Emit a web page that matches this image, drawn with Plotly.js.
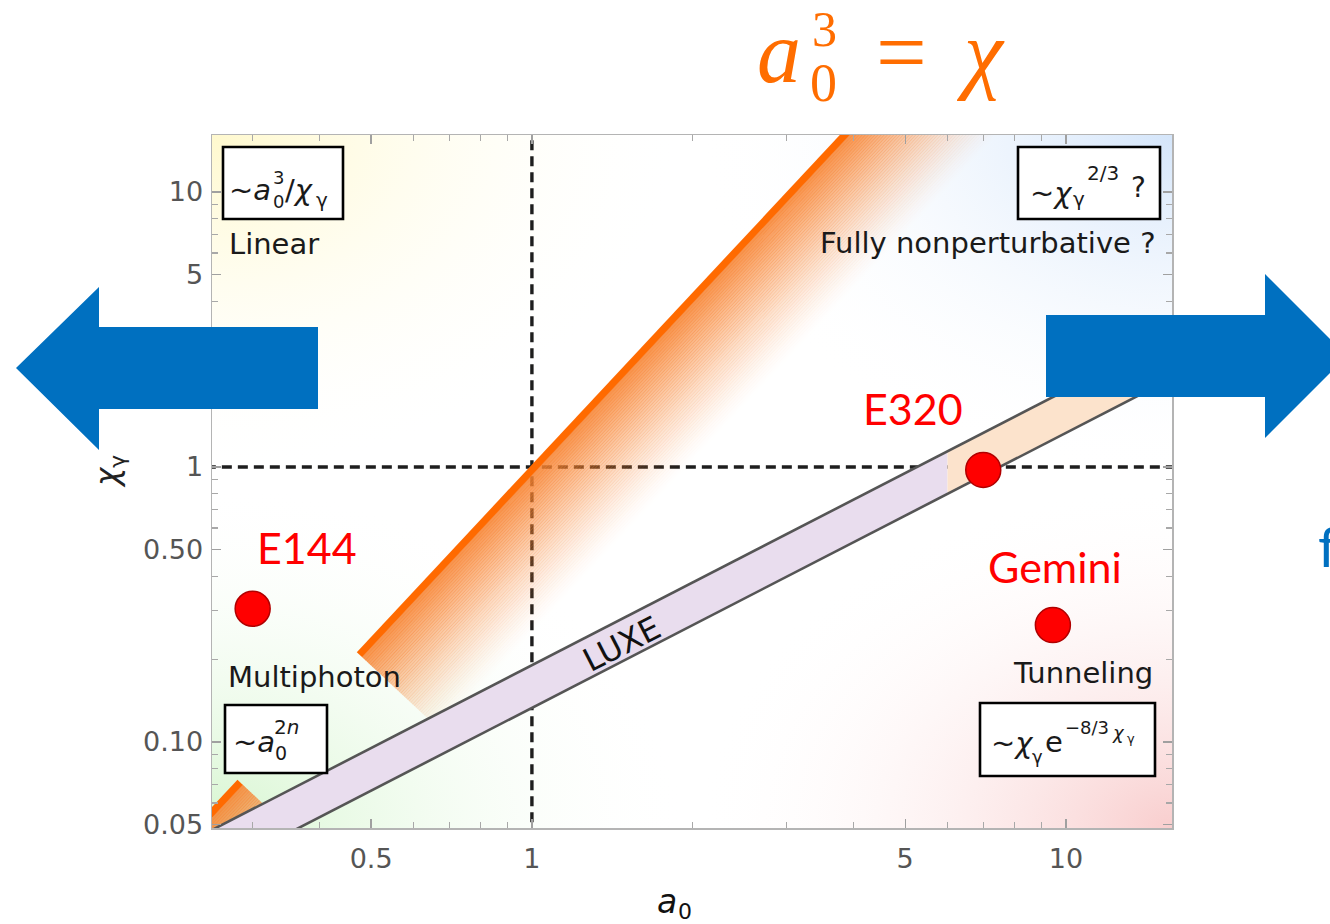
<!DOCTYPE html>
<html><head><meta charset="utf-8">
<script src="https://cdn.plot.ly/plotly-3.0.1.min.js"></script>
<style>html,body{margin:0;padding:0;background:#fff;overflow:hidden}#chart{width:1330px;height:924px}</style>
</head><body><div id="chart"></div>
<script>
// ---------------- data ----------------
const xTickVals = [0.5, 1, 5, 10];
const xTickText = ['0.5', '1', '5', '10'];
const xMinorVals = [0.3, 0.4, 0.6, 0.7, 0.8, 0.9, 2, 3, 4, 6, 7, 8, 9];
const yTickVals = [0.05, 0.1, 0.5, 1, 5, 10];
const yTickText = ['0.05', '0.10', '0.50', '1', '5', '10'];
const yMinorVals = [0.06, 0.07, 0.08, 0.09, 0.2, 0.3, 0.4, 0.6, 0.7, 0.8, 0.9, 2, 3, 4, 6, 7, 8, 9];

const expNames = ['E144', 'E320', 'Gemini'];
const expA0 = [0.30, 7.0, 9.45];
const expChi = [0.305, 0.975, 0.266];

// LUXE band edges (a0, chi) and colour switch at a0 = 6
const luxeA0 = [0.2, 6, 20];
const luxeChiUpper = [0.038, 1.14, 3.8];
const luxeChiLower = [0.0266, 0.80, 2.66];

// orange threshold edge: lower piece ends at index 0, upper piece spans index 1..2
const orangeEdgeA0 = [0.281, 0.47, 3.77];
const orangeEdgeChi = [0.0728, 0.212, 16.1];

const refA0 = 1, refChi = 1;

// ---------------- geometry helpers ----------------
const W = 1330, H = 924, PL = 212, PR = 1172, PT = 135, PB = 828;
const X0 = -0.599, X1 = 1.1985, Y0 = -1.313, Y1 = 1.207;
const kx = (PR - PL) / (X1 - X0), ky = (PB - PT) / (Y1 - Y0);
const toPx = (a, c) => [PL + (Math.log10(a) - X0) * kx, PB - (Math.log10(c) - Y0) * ky];
const toData = p => [Math.pow(10, X0 + (p[0] - PL) / kx), Math.pow(10, Y0 + (PB - p[1]) / ky)];
const px = x => (x - PL) / (PR - PL);
const py = y => (PB - y) / (PB - PT);

const traces = [];

// soft corner tints of the background
const tints = [
  {a: X0, c: Y1, col: 'rgba(255,248,200,0.9)'},
  {a: X1, c: Y1, col: 'rgba(210,228,250,0.95)'},
  {a: X1, c: Y0, col: 'rgba(248,200,200,0.9)'},
  {a: X0, c: Y0, col: 'rgba(212,245,205,0.95)'}
];
tints.forEach(k => {
  const hx = (X1 - X0) * 0.9, hy = (Y1 - Y0) * 0.9;
  const xs = [k.a - hx, k.a + hx, k.a + hx, k.a - hx, k.a - hx].map(v => Math.pow(10, v));
  const ys = [k.c - hy, k.c - hy, k.c + hy, k.c + hy, k.c - hy].map(v => Math.pow(10, v));
  traces.push({type: 'scatter', mode: 'lines', x: xs, y: ys, fill: 'toself',
    line: {width: 0, color: 'rgba(0,0,0,0)'}, hoverinfo: 'skip',
    fillgradient: {type: 'radial', colorscale: [[0, k.col], [0.55, 'rgba(255,255,255,0)'], [1, 'rgba(255,255,255,0)']]}});
});

// dashed reference lines
traces.push({type: 'scatter', mode: 'lines', x: [refA0, refA0], y: [0.02, 40],
  line: {color: '#1e1e1e', width: 3.4, dash: '10px,6px'}, hoverinfo: 'skip'});
traces.push({type: 'scatter', mode: 'lines', x: [0.1, 40], y: [refChi, refChi],
  line: {color: '#1e1e1e', width: 3.4, dash: '10px,6px'}, hoverinfo: 'skip'});

// orange threshold band with fading side
(function () {
  const p1 = toPx(orangeEdgeA0[1], orangeEdgeChi[1]);
  const p2 = toPx(orangeEdgeA0[2], orangeEdgeChi[2]);
  const pk = toPx(orangeEdgeA0[0], orangeEdgeChi[0]);
  let u = [p2[0] - p1[0], p2[1] - p1[1]];
  const len = Math.hypot(u[0], u[1]); u = [u[0] / len, u[1] / len];
  const n = [-u[1], u[0]];
  const pieces = [
    [p1, [p2[0] + 260 * u[0], p2[1] + 260 * u[1]]],
    [[pk[0] - 260 * u[0], pk[1] - 260 * u[1]], pk]
  ];
  const bounds = [0, 7];
  for (let i = 1; i <= 48; i++) bounds.push(7 + i * 2.3);
  pieces.forEach(([S, E]) => {
    for (let i = 0; i < bounds.length - 1; i++) {
      const d1 = bounds[i], d2 = bounds[i + 1] + 0.5;
      const pts = [[S, d1], [E, d1], [E, d2], [S, d2], [S, d1]].map(([P, d]) => toData([P[0] + d * n[0], P[1] + d * n[1]]));
      let col;
      if (i === 0) col = 'rgb(255,106,0)';
      else {
        const t = ((bounds[i] + bounds[i + 1]) / 2 - 7) / 110;
        const al = 0.86 * Math.pow(Math.max(0, 1 - t), 1.5);
        col = 'rgba(247,130,48,' + al.toFixed(3) + ')';
      }
      traces.push({type: 'scatter', mode: 'lines', x: pts.map(p => p[0]), y: pts.map(p => p[1]),
        fill: 'toself', fillcolor: col, line: {width: 0, color: 'rgba(0,0,0,0)'}, hoverinfo: 'skip'});
    }
  });
})();

// LUXE band
traces.push({type: 'scatter', mode: 'lines', hoverinfo: 'skip',
  x: [luxeA0[0], luxeA0[1], luxeA0[1], luxeA0[0], luxeA0[0]],
  y: [luxeChiUpper[0], luxeChiUpper[1], luxeChiLower[1], luxeChiLower[0], luxeChiUpper[0]],
  fill: 'toself', fillcolor: '#E9DDEE', line: {width: 0, color: 'rgba(0,0,0,0)'}});
traces.push({type: 'scatter', mode: 'lines', hoverinfo: 'skip',
  x: [luxeA0[1], luxeA0[2], luxeA0[2], luxeA0[1], luxeA0[1]],
  y: [luxeChiUpper[1], luxeChiUpper[2], luxeChiLower[2], luxeChiLower[1], luxeChiUpper[1]],
  fill: 'toself', fillcolor: '#FCE3CC', line: {width: 0, color: 'rgba(0,0,0,0)'}});
traces.push({type: 'scatter', mode: 'lines', x: luxeA0, y: luxeChiUpper, line: {color: '#555', width: 2.6}, hoverinfo: 'skip'});
traces.push({type: 'scatter', mode: 'lines', x: luxeA0, y: luxeChiLower, line: {color: '#555', width: 2.6}, hoverinfo: 'skip'});

// experiments
traces.push({type: 'scatter', mode: 'markers', x: expA0, y: expChi, text: expNames,
  marker: {size: 35, color: '#FF0000', line: {color: '#B00000', width: 1.5}}, cliponaxis: false});

// ---------------- annotations ----------------
const ann = [];
function T(text, x, y, size, opt) {
  opt = opt || {};
  ann.push({xref: 'paper', yref: 'paper', x: px(x), y: py(y), text: text, showarrow: false,
    xanchor: opt.xa || 'center', yanchor: 'middle', textangle: opt.angle || 0, borderpad: 0,
    font: {family: opt.family || 'DejaVu Sans', size: size, color: opt.color || '#1a1a1a'}});
}
const OR = '#FF6D00';
// title  a_0^3 = chi
T('<i>a</i>', 756, 53, 88, {xa: 'left', family: 'Liberation Serif', color: OR});
T('3', 824, 29, 50, {family: 'Liberation Serif', color: OR});
T('0', 823, 83, 54, {family: 'Liberation Serif', color: OR});
T('=', 901, 53, 90, {family: 'Liberation Serif', color: OR});
T('<i>χ</i>', 980, 53, 88, {family: 'Liberation Serif', color: OR});

// region labels
T('Linear', 228, 244, 29, {xa: 'left'});
T('Fully nonperturbative ?', 1157, 243, 29, {xa: 'right'});
T('Multiphoton', 227, 677, 29, {xa: 'left'});
T('Tunneling', 1154, 673, 29, {xa: 'right'});

// box 1  ~a0^3/chi_gamma
T('~<i>a</i>', 272, 190, 29, {xa: 'right'});
T('3', 278, 178, 18);
T('0', 278, 201, 18);
T('/<i>χ</i>', 284, 190, 29, {xa: 'left'});
T('γ', 315, 200, 20, {xa: 'left'});
// box 2  ~chi_gamma^(2/3) ?
T('~<i>χ</i>', 1029, 193, 29, {xa: 'left'});
T('γ', 1072, 199, 20, {xa: 'left'});
T('2/3', 1086, 173, 20, {xa: 'left'});
T('?', 1130, 187, 28, {xa: 'left'});
// box 3  ~a0^2n
T('~<i>a</i>', 276, 742, 29, {xa: 'right'});
T('2<i>n</i>', 273, 727, 20, {xa: 'left'});
T('0', 274, 753, 19, {xa: 'left'});
// box 4  ~chi_gamma e^(-8/3 chi_gamma)
T('~<i>χ</i>', 990, 743, 29, {xa: 'left'});
T('γ', 1031, 756, 18, {xa: 'left'});
T('e', 1044, 742, 29, {xa: 'left'});
T('−8/3', 1064, 727, 18, {xa: 'left'});
T('<i>χ</i>', 1111, 732, 18, {xa: 'left'});
T('γ', 1126, 738, 13, {xa: 'left'});

// experiment labels
T(expNames[0], 256, 547, 43, {xa: 'left', family: 'Lato', color: '#FF0000'});
T(expNames[1], 862, 408, 43, {xa: 'left', family: 'Lato', color: '#FF0000'});
T(expNames[2], 987, 566, 43, {xa: 'left', family: 'Lato', color: '#FF0000'});

// LUXE label along band
T('LUXE', 622, 644, 32, {angle: -27.2, color: '#111'});

// axis titles
T('<i>a</i>', 667, 901, 33, {color: '#111'});
T('0', 685, 912, 22, {color: '#111'});
T('<i>χ</i><sub>γ</sub>', 109, 472, 31, {angle: -90, color: '#222'});

// partial word at right edge
T('f', 1317, 545, 56, {xa: 'left', family: 'Lato', color: '#0070C0'});

// ---------------- shapes: boxes and arrows ----------------
const shapes = [];
function box(x0, y0, x1, y1) {
  shapes.push({type: 'rect', xref: 'paper', yref: 'paper', x0: px(x0), x1: px(x1), y0: py(y1), y1: py(y0),
    line: {color: '#000', width: 2.6}, fillcolor: '#fff', layer: 'above'});
}
box(223, 147, 343, 219);
box(1018, 147, 1160, 219);
box(225, 705, 327, 773);
box(980, 703, 1155, 776);
function poly(pts) {
  return 'M ' + pts.map(p => px(p[0]).toFixed(5) + ',' + py(p[1]).toFixed(5)).join(' L ') + ' Z';
}
shapes.push({type: 'path', xref: 'paper', yref: 'paper', layer: 'above', fillcolor: '#0070C0', line: {width: 0},
  path: poly([[16, 368], [99, 287], [99, 327], [318, 327], [318, 409], [99, 409], [99, 450]])});
shapes.push({type: 'path', xref: 'paper', yref: 'paper', layer: 'above', fillcolor: '#0070C0', line: {width: 0},
  path: poly([[1046, 315], [1265, 315], [1265, 274], [1347, 356], [1265, 438], [1265, 397], [1046, 397]])});

const axisCommon = {
  type: 'log', showgrid: false, zeroline: false, showline: true, linecolor: '#b4b4b4', linewidth: 1.5,
  mirror: 'allticks', ticks: 'inside', ticklen: 9, tickwidth: 1.3, tickcolor: '#a0a0a0',
  tickfont: {family: 'DejaVu Sans', size: 27, color: '#555'}, tickmode: 'array'
};
const layout = {
  width: W, height: H, autosize: false, showlegend: false,
  margin: {l: PL, r: W - PR, t: PT, b: H - PB, pad: 0},
  paper_bgcolor: '#fff', plot_bgcolor: '#fff',
  xaxis: Object.assign({}, axisCommon, {range: [X0, X1], tickvals: xTickVals, ticktext: xTickText, ticklabelstandoff: 6,
    minor: {tickvals: xMinorVals, ticks: 'inside', ticklen: 6, tickwidth: 1.2, tickcolor: '#a8a8a8', showgrid: false}}),
  yaxis: Object.assign({}, axisCommon, {range: [Y0, Y1], tickvals: yTickVals, ticktext: yTickText, ticklabelstandoff: 2,
    minor: {tickvals: yMinorVals, ticks: 'inside', ticklen: 6, tickwidth: 1.2, tickcolor: '#a8a8a8', showgrid: false}}),
  annotations: ann, shapes: shapes
};
Plotly.newPlot('chart', traces, layout, {staticPlot: true, displayModeBar: false});
</script></body></html>
